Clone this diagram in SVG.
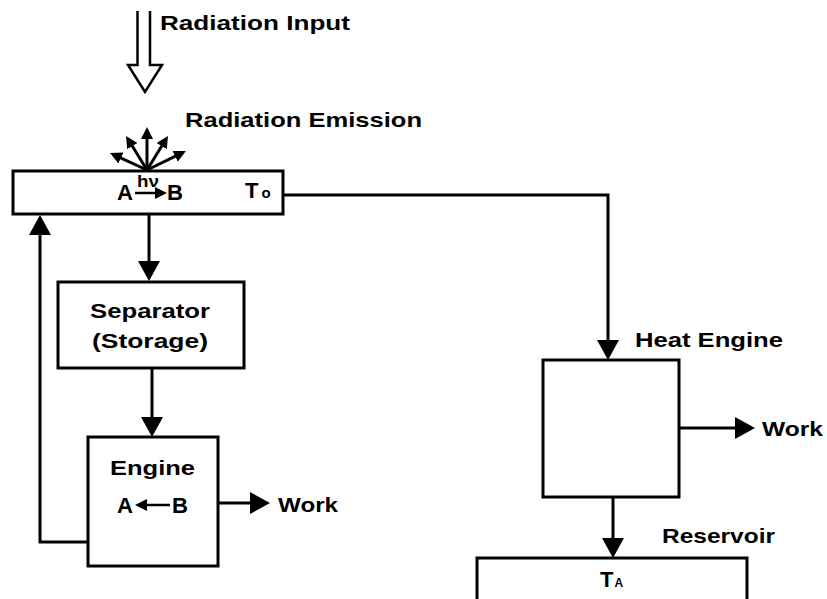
<svg xmlns="http://www.w3.org/2000/svg" width="827" height="599" viewBox="0 0 827 599">
<style>
.box{fill:#fff;stroke:#000;stroke-width:3}
.ln{fill:none;stroke:#000;stroke-width:3}
.thin{fill:none;stroke:#000;stroke-width:2.5}
.t{font-family:"Liberation Sans",Arial,sans-serif;font-weight:bold;font-size:21px;fill:#000}
.L{font-family:"Liberation Sans",Arial,sans-serif;font-weight:bold;font-size:22px;fill:#000}
.s{font-family:"Liberation Sans",Arial,sans-serif;font-weight:bold;font-size:17px;fill:#000}
</style>
<defs>
<marker id="ah" viewBox="0 0 20 22" refX="2" refY="11" markerWidth="20" markerHeight="22" markerUnits="userSpaceOnUse" orient="auto"><path d="M0,0 L20,11 L0,22 z" fill="#000"/></marker>
<marker id="sah" viewBox="0 0 12 12" refX="1" refY="6" markerWidth="12" markerHeight="12" markerUnits="userSpaceOnUse" orient="auto"><path d="M0,0 L12,6 L0,12 z" fill="#000"/></marker>
</defs>
<rect width="827" height="599" fill="#fff"/>

<g id="radiation-input">
<path class="thin" d="M137.5,11 V65 H128 L145,92 L162,65 H150 V11"/>
<text class="t" x="160" y="30" textLength="190" lengthAdjust="spacingAndGlyphs">Radiation Input</text>
</g>

<g id="radiation-emission">
<g class="ln" marker-end="url(#sah)">
<line x1="147" y1="170" x2="120" y2="157.6"/>
<line x1="147" y1="170" x2="131.8" y2="145.3"/>
<line x1="147" y1="170" x2="147" y2="138"/>
<line x1="147" y1="170" x2="162.2" y2="145.3"/>
<line x1="147" y1="170" x2="176" y2="155.9"/>
</g>
<text class="t" x="185" y="127" textLength="237" lengthAdjust="spacingAndGlyphs">Radiation Emission</text>
</g>

<g id="absorber">
<rect class="box" x="13" y="171" width="270" height="43"/>
<text class="L" x="117" y="200" textLength="16" lengthAdjust="spacingAndGlyphs">A</text>
<text class="s" x="137" y="187" textLength="22" lengthAdjust="spacingAndGlyphs">hν</text>
<line x1="135" y1="193" x2="156" y2="193" marker-end="url(#sah)" style="stroke:#000;stroke-width:2.5"/>
<text class="L" x="167" y="200" textLength="16" lengthAdjust="spacingAndGlyphs">B</text>
<text class="L" x="245" y="198">T<tspan font-size="15" dx="3">o</tspan></text>
</g>

<g id="separator">
<rect class="box" x="58" y="282" width="186" height="86"/>
<text class="t" x="90" y="318" textLength="120" lengthAdjust="spacingAndGlyphs">Separator</text>
<text class="t" x="92" y="348" textLength="116" lengthAdjust="spacingAndGlyphs">(Storage)</text>
</g>

<g id="engine">
<rect class="box" x="88" y="437" width="130" height="129"/>
<text class="t" x="110" y="475" textLength="85" lengthAdjust="spacingAndGlyphs">Engine</text>
<text class="L" x="117" y="513" textLength="16" lengthAdjust="spacingAndGlyphs">A</text>
<line x1="170" y1="505" x2="146" y2="505" marker-end="url(#sah)" style="stroke:#000;stroke-width:2.5"/>
<text class="L" x="172" y="513" textLength="16" lengthAdjust="spacingAndGlyphs">B</text>
</g>

<g id="work-1">
<text class="t" x="278" y="512" textLength="60" lengthAdjust="spacingAndGlyphs">Work</text>
</g>

<g id="heat-engine">
<rect class="box" x="543" y="360" width="136" height="137"/>
<text class="t" x="635" y="347" textLength="148" lengthAdjust="spacingAndGlyphs">Heat Engine</text>
</g>

<g id="work-2">
<text class="t" x="762" y="436" textLength="61" lengthAdjust="spacingAndGlyphs">Work</text>
</g>

<g id="reservoir">
<rect class="box" x="477" y="558" width="270" height="60"/>
<text class="t" x="662" y="543" textLength="113" lengthAdjust="spacingAndGlyphs">Reservoir</text>
<text class="L" x="600" y="587">T<tspan font-size="12" dx="1">A</tspan></text>
</g>

<g id="connectors" class="ln">
<path d="M149,214 V263" marker-end="url(#ah)"/>
<path d="M152,368 V419" marker-end="url(#ah)"/>
<path d="M88,542 H40 V233" marker-end="url(#ah)"/>
<path d="M218,503 H252" marker-end="url(#ah)"/>
<path d="M283,195 H608 V342" marker-end="url(#ah)"/>
<path d="M679,428 H737" marker-end="url(#ah)"/>
<path d="M613,497 V540" marker-end="url(#ah)"/>
</g>
</svg>
